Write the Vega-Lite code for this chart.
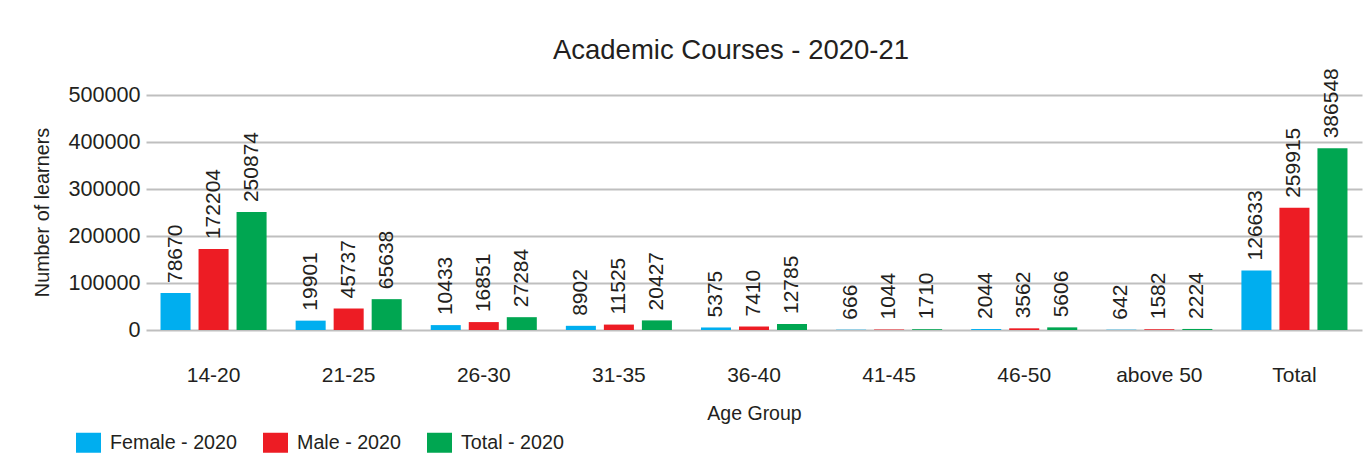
{
  "$schema": "https://vega.github.io/schema/vega-lite/v6.json",
  "autosize": {"type": "none"},
  "width": 1216,
  "height": 235,
  "padding": {"left": 146, "top": 95, "right": 10, "bottom": 137},
  "background": "white",
  "title": {
    "text": "Academic Courses - 2020-21",
    "font": "'Liberation Sans', Arial, sans-serif",
    "fontSize": 27.5,
    "fontWeight": "normal",
    "color": "#231f20",
    "anchor": "middle",
    "frame": "group",
    "baseline": "alphabetic",
    "dx": -23,
    "offset": -18
  },
  "data": {
    "values": [
      {"group": "14-20", "series": "Female - 2020", "value": 78670},
      {"group": "14-20", "series": "Male - 2020", "value": 172204},
      {"group": "14-20", "series": "Total - 2020", "value": 250874},
      {"group": "21-25", "series": "Female - 2020", "value": 19901},
      {"group": "21-25", "series": "Male - 2020", "value": 45737},
      {"group": "21-25", "series": "Total - 2020", "value": 65638},
      {"group": "26-30", "series": "Female - 2020", "value": 10433},
      {"group": "26-30", "series": "Male - 2020", "value": 16851},
      {"group": "26-30", "series": "Total - 2020", "value": 27284},
      {"group": "31-35", "series": "Female - 2020", "value": 8902},
      {"group": "31-35", "series": "Male - 2020", "value": 11525},
      {"group": "31-35", "series": "Total - 2020", "value": 20427},
      {"group": "36-40", "series": "Female - 2020", "value": 5375},
      {"group": "36-40", "series": "Male - 2020", "value": 7410},
      {"group": "36-40", "series": "Total - 2020", "value": 12785},
      {"group": "41-45", "series": "Female - 2020", "value": 666},
      {"group": "41-45", "series": "Male - 2020", "value": 1044},
      {"group": "41-45", "series": "Total - 2020", "value": 1710},
      {"group": "46-50", "series": "Female - 2020", "value": 2044},
      {"group": "46-50", "series": "Male - 2020", "value": 3562},
      {"group": "46-50", "series": "Total - 2020", "value": 5606},
      {"group": "above 50", "series": "Female - 2020", "value": 642},
      {"group": "above 50", "series": "Male - 2020", "value": 1582},
      {"group": "above 50", "series": "Total - 2020", "value": 2224},
      {"group": "Total", "series": "Female - 2020", "value": 126633},
      {"group": "Total", "series": "Male - 2020", "value": 259915},
      {"group": "Total", "series": "Total - 2020", "value": 386548}
    ]
  },
  "encoding": {
    "x": {
      "field": "group",
      "type": "nominal",
      "sort": null,
      "scale": {"paddingInner": 0.215, "paddingOuter": 0.1075},
      "axis": {
        "title": "Age Group",
        "labelAngle": 0,
        "labelFontSize": 21,
        "labelFont": "'Liberation Sans', Arial, sans-serif",
        "labelColor": "#231f20",
        "labelBaseline": "alphabetic",
        "labelPadding": 51,
        "ticks": false,
        "tickSize": 0,
        "domain": false,
        "titleFontSize": 19.5,
        "titleFont": "'Liberation Sans', Arial, sans-serif",
        "titleFontWeight": "normal",
        "titleColor": "#231f20",
        "titleBaseline": "alphabetic",
        "titleY": 89
      }
    },
    "xOffset": {
      "field": "series",
      "type": "nominal",
      "sort": ["Female - 2020", "Male - 2020", "Total - 2020"],
      "scale": {"paddingInner": 0.21, "paddingOuter": 0}
    },
    "y": {
      "field": "value",
      "type": "quantitative",
      "scale": {"domain": [0, 500000], "nice": false},
      "axis": {
        "title": "Number of learners",
        "values": [0, 100000, 200000, 300000, 400000, 500000],
        "format": "d",
        "grid": true,
        "gridColor": "#bfbfbf",
        "gridWidth": 2,
        "domain": false,
        "ticks": false,
        "tickSize": 0,
        "labelPadding": 6,
        "labelFontSize": 21.6,
        "labelFont": "'Liberation Sans', Arial, sans-serif",
        "labelColor": "#231f20",
        "titleFontSize": 19.8,
        "titleFont": "'Liberation Sans', Arial, sans-serif",
        "titleFontWeight": "normal",
        "titleColor": "#231f20",
        "titleAngle": -90,
        "titleX": -104,
        "titleY": 117,
        "titleAlign": "center",
        "titleBaseline": "middle"
      }
    }
  },
  "layer": [
    {
      "mark": {"type": "bar"},
      "encoding": {
        "color": {
          "field": "series",
          "type": "nominal",
          "scale": {
            "domain": ["Female - 2020", "Male - 2020", "Total - 2020"],
            "range": ["#00aeef", "#ed1c24", "#00a651"]
          },
          "legend": {
            "title": null,
            "orient": "none",
            "direction": "horizontal",
            "legendX": -70,
            "legendY": 335,
            "symbolType": "M-1,-0.8H1V0.8H-1Z",
            "symbolSize": 625,
            "symbolStrokeWidth": 0,
            "symbolOpacity": 1,
            "labelFontSize": 19.7,
            "labelFont": "'Liberation Sans', Arial, sans-serif",
            "labelColor": "#231f20",
            "labelOffset": 9,
            "columnPadding": 26
          }
        }
      }
    },
    {
      "mark": {
        "type": "text",
        "angle": 270,
        "align": "left",
        "baseline": "middle",
        "dx": 10,
        "fontSize": 21,
        "font": "'Liberation Sans', Arial, sans-serif",
        "color": "#231f20"
      },
      "encoding": {
        "text": {"field": "value", "type": "quantitative", "format": "d"}
      }
    }
  ],
  "config": {"view": {"stroke": null}}
}
